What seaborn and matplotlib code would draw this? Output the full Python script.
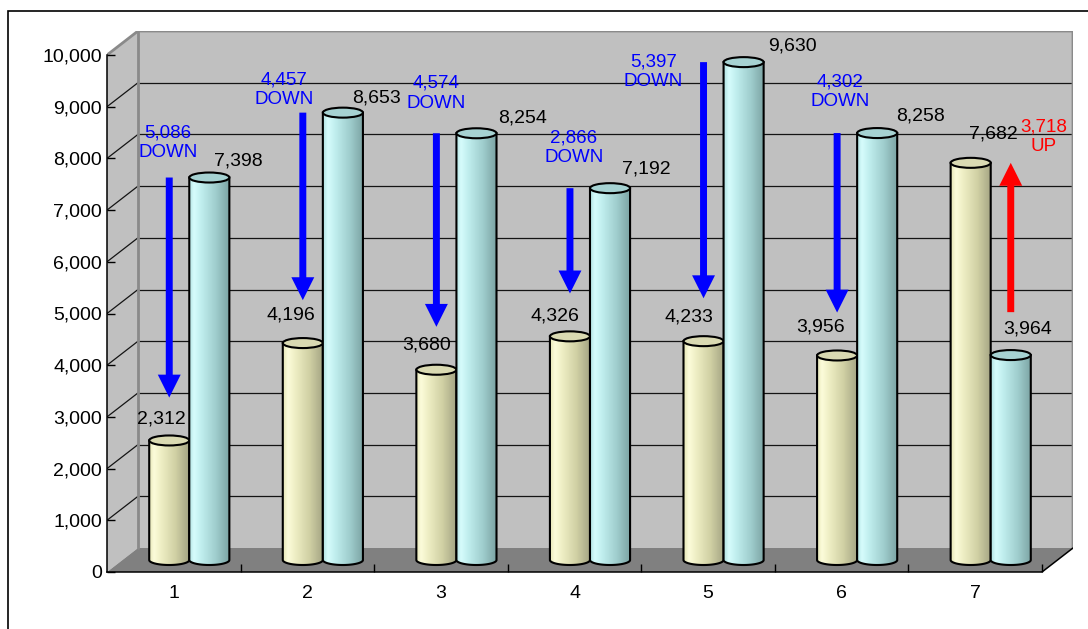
import numpy as np
import pandas as pd
import matplotlib
matplotlib.use("Agg")
import matplotlib.pyplot as plt
import matplotlib.ticker as mticker
import seaborn as sns
from matplotlib.patches import Polygon, Rectangle, Ellipse, PathPatch
from matplotlib.path import Path
from matplotlib.colors import LinearSegmentedColormap

# ---- data -------------------------------------------------------------
periods = ["1", "2", "3", "4", "5", "6", "7"]
yellow_values = [2312, 4196, 3680, 4326, 4233, 3956, 7682]
cyan_values = [7398, 8653, 8254, 7192, 9630, 8258, 3964]
y_ticks = list(range(0, 10001, 1000))

# ---- label placement (pixel offsets from the bar top / arrow anchor) --
yellow_label_offsets = [(-8, 21), (-12, 28), (-10, 25), (-15, 20), (-15, 24), (-17, 28), (23, 29)]
cyan_label_offsets = [(29, 17), (34, 15), (46, 15), (36, 19), (49, 16), (43, 17), (17, 26)]
change_label_offsets = [(-1, 35), (-19, 23), (0, 40), (4, 40), (-50, -10), (3, 41), (33, 26)]

# ---- style --------------------------------------------------------------
sns.set_style("white")
plt.rcParams["font.family"] = ["Liberation Sans", "DejaVu Sans"]

W, H = 1088, 629
fig = plt.figure(figsize=(W / 100, H / 100), dpi=100)

# plot box in pixels: front plane + perspective depth
front_left, front_right, front_bottom, front_top = 107, 1042, 572, 55
depth_px_x, depth_px_y = 31, 24
ax_left_px = front_left
ax_right_px = front_right + depth_px_x
ax_top_px = front_top - depth_px_y
ax = fig.add_axes([ax_left_px / W, (H - front_bottom) / H,
                   (ax_right_px - ax_left_px) / W, (front_bottom - ax_top_px) / H])

n = len(periods)
px_per_x = (front_right - front_left) / n          # pixels per category unit
px_per_y = (front_bottom - front_top) / 10000.0    # pixels per value unit
ddx = depth_px_x / px_per_x
ddy = depth_px_y / px_per_y
half_dx, half_dy = ddx / 2, ddy / 2
x_lo, x_hi = -0.5, n - 0.5

df = pd.DataFrame({
    "period": periods * 2,
    "count": yellow_values + cyan_values,
    "series": ["A"] * n + ["B"] * n,
})

base_colors = ["#eeeec2", "#bfeeee"]
sns.barplot(data=df, x="period", y="count", hue="series", palette=base_colors,
            width=0.6, saturation=1, legend=False, ax=ax, edgecolor="none", zorder=2)

# ---- walls and floor ----------------------------------------------------
ax.add_patch(Rectangle((x_lo + ddx, ddy), n, 10000, fc="#c0c0c0", ec="none", zorder=0.1))
ax.add_patch(Polygon([(x_lo, 0), (x_lo + ddx, ddy), (x_lo + ddx, 10000 + ddy), (x_lo, 10000)],
                     closed=True, fc="#c0c0c0", ec="none", zorder=0.1))
ax.add_patch(Polygon([(x_lo, 0), (x_hi, 0), (x_hi + ddx, ddy), (x_lo + ddx, ddy)],
                     closed=True, fc="#808080", ec="none", zorder=0.2))
for v in y_ticks[1:-1]:
    ax.plot([x_lo + ddx, x_hi + ddx], [v + ddy, v + ddy], color="#141414", lw=0.9, zorder=0.3)
    ax.plot([x_lo, x_lo + ddx], [v, v + ddy], color="#141414", lw=0.9, zorder=0.3)
edge_grey = "#8a8a8a"
ax.plot([x_lo, x_lo + ddx, x_hi + ddx, x_hi + ddx], [10000, 10000 + ddy, 10000 + ddy, ddy],
        color=edge_grey, lw=2.0, zorder=0.35, solid_joinstyle="miter")
ax.plot([x_lo + ddx, x_lo + ddx], [ddy, 10000 + ddy], color=edge_grey, lw=2.0, zorder=0.35)
ax.plot([x_hi, x_hi + ddx], [0, ddy], color="black", lw=1.1, zorder=0.4)

# ---- cylinders ----------------------------------------------------------
gradients = [
    LinearSegmentedColormap.from_list("ycyl", [(0, "#e6e6b6"), (0.12, "#fcfcda"), (0.3, "#eeeec4"),
                                               (0.65, "#d0d0a4"), (1, "#a2a282")]),
    LinearSegmentedColormap.from_list("ccyl", [(0, "#b2e2e2"), (0.12, "#d6fcfc"), (0.3, "#c0eeee"),
                                               (0.65, "#a0cece"), (1, "#7aa2a2")]),
]
top_colors = ["#dadab2", "#a6d2d2"]
ell_h = 10 / px_per_y
grad_img = np.linspace(0, 1, 256)[None, :]

tops = [[None] * n, [None] * n]
order = 2.0
for i in range(n):
    for s, cont in enumerate(ax.containers[:2]):
        bar = cont.patches[i]
        bar.set_x(bar.get_x() + half_dx)
        bar.set_y(half_dy)
        x0, w, h = bar.get_x(), bar.get_width(), bar.get_height()
        xc, base, top = x0 + w / 2, half_dy, half_dy + h
        bar.set_zorder(order)
        th = np.linspace(np.pi, 2 * np.pi, 60)
        verts = [(x0, top), (x0, base)]
        verts += list(zip(xc + w / 2 * np.cos(th), base + ell_h / 2 * np.sin(th)))
        verts += [(x0 + w, top), (x0, top)]
        codes = [Path.MOVETO] + [Path.LINETO] * (len(verts) - 2) + [Path.CLOSEPOLY]
        body = PathPatch(Path(verts, codes), fc="none", ec="black", lw=1.5,
                         transform=ax.transData, zorder=order + 0.2)
        img = ax.imshow(grad_img, cmap=gradients[s], aspect="auto",
                        extent=(x0, x0 + w, base - ell_h / 2, top), zorder=order + 0.1,
                        interpolation="bilinear")
        img.set_clip_path(body)
        ax.add_patch(body)
        ax.add_patch(Ellipse((xc, top), w, ell_h, fc=top_colors[s], ec="black", lw=1.5,
                             zorder=order + 0.3))
        tops[s][i] = (xc, top)
        order += 0.5

# ---- value labels -------------------------------------------------------
for s, (vals, offs) in enumerate([(yellow_values, yellow_label_offsets),
                                  (cyan_values, cyan_label_offsets)]):
    for i, v in enumerate(vals):
        ax.annotate(f"{v:,}", xy=tops[s][i], xytext=offs[i], textcoords="offset pixels",
                    ha="center", va="center", fontsize=14, color="black", zorder=10,
                    annotation_clip=False)

# ---- change arrows ------------------------------------------------------
gap = 830
for i in range(n):
    y_v, c_v = yellow_values[i], cyan_values[i]
    change = y_v - c_v
    low_s = 0 if y_v < c_v else 1
    ax_x = tops[low_s][i][0]
    high, low = max(y_v, c_v), min(y_v, c_v)
    color = "#0000ff" if change < 0 else "#ff0000"
    if change < 0:
        tail, tip = high, low + gap
    else:
        tail, tip = low + gap, high
    ax.annotate("", xy=(ax_x, tip + half_dy), xytext=(ax_x, tail + half_dy),
                arrowprops=dict(arrowstyle="simple,head_length=1.65,head_width=1.65,tail_width=0.5",
                                mutation_scale=10, fc=color, ec="none", shrinkA=0, shrinkB=0),
                zorder=9, annotation_clip=False)
    word = "DOWN" if change < 0 else "UP"
    ax.annotate(f"{abs(change):,}\n{word}", xy=(ax_x, high + half_dy),
                xytext=change_label_offsets[i], textcoords="offset pixels",
                ha="center", va="center", fontsize=13.5, color=color, linespacing=1.2,
                zorder=10, annotation_clip=False)

# ---- axes ---------------------------------------------------------------
ax.set_xlim(x_lo, x_hi + ddx)
ax.set_ylim(0, 10000 + ddy)
ax.set_facecolor("none")
ax.set_xlabel("")
ax.set_ylabel("")
for side in ("top", "right"):
    ax.spines[side].set_visible(False)
ax.spines["left"].set_bounds(0, 10000)
ax.spines["bottom"].set_bounds(x_lo, x_hi)
for side in ("left", "bottom"):
    ax.spines[side].set_color("black")
    ax.spines[side].set_linewidth(1.1)
    ax.spines[side].set_zorder(1)

ax.set_yticks(y_ticks)
ax.yaxis.set_major_formatter(mticker.StrMethodFormatter("{x:,.0f}"))
ax.tick_params(axis="y", direction="in", length=5.8, width=1, labelsize=14, pad=3.6,
               colors="black", left=True)
ax.set_xticks(range(n), periods)
ax.set_xticks([k + 0.5 for k in range(n)], minor=True)
ax.tick_params(axis="x", which="major", length=0, labelsize=14, pad=9, colors="black")
ax.tick_params(axis="x", which="minor", direction="in", length=5.8, width=1, bottom=True,
               colors="black")
ax.grid(False)

# outer frame
fig.add_artist(Rectangle((8 / W, -0.05), 1.1, (H - 11) / H + 0.05, transform=fig.transFigure,
                         fill=False, ec="black", lw=1.2))

fig.savefig("out.png", dpi=100)
